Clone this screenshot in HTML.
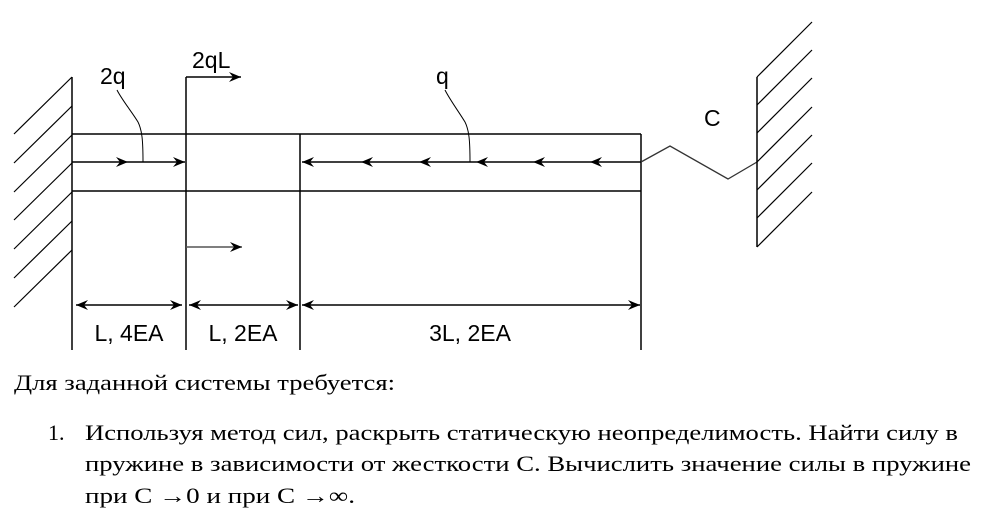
<!DOCTYPE html>
<html><head><meta charset="utf-8"><style>
html,body{margin:0;padding:0;background:#fff;width:985px;height:520px;overflow:hidden}
svg{display:block}
.s{font-family:"Liberation Sans",Arial,sans-serif;font-size:23px;fill:#000}
.t{font-family:"Liberation Serif","Times New Roman",serif;font-size:22px;fill:#000}
</style></head><body>
<svg width="985" height="520" viewBox="0 0 985 520" xmlns="http://www.w3.org/2000/svg">
<defs>
<marker id="ah" markerWidth="12" markerHeight="10" refX="12" refY="5" orient="auto" markerUnits="userSpaceOnUse">
<path d="M0,0 L12,5 L0,10 L4,5 Z" fill="#000"/></marker>
</defs>
<g stroke="#000" stroke-width="1.5" fill="none">
<line x1="72" y1="77" x2="72" y2="350"/>
<g stroke-width="1.2">
<line x1="72" y1="77" x2="14" y2="134"/>
<line x1="72" y1="106" x2="14" y2="163"/>
<line x1="72" y1="135" x2="14" y2="192"/>
<line x1="72" y1="163" x2="14" y2="220"/>
<line x1="72" y1="192" x2="14" y2="249"/>
<line x1="72" y1="221" x2="14" y2="278"/>
<line x1="72" y1="250" x2="14" y2="307"/>
</g>
<line x1="72" y1="134" x2="641" y2="134"/>
<line x1="72" y1="191" x2="641" y2="191"/>
<line x1="186" y1="77" x2="186" y2="350"/>
<line x1="300" y1="134" x2="300" y2="350"/>
<line x1="641" y1="134" x2="641" y2="350"/>
<line x1="72" y1="162" x2="128" y2="162" marker-end="url(#ah)"/>
<line x1="128" y1="162" x2="185" y2="162" marker-end="url(#ah)"/>
<path d="M143,162 C143,140 142,130 138,122 C132,112 122,100 117,90" stroke-width="1"/>
<line x1="186" y1="77" x2="241" y2="77" marker-end="url(#ah)"/>
<line x1="186" y1="247" x2="242" y2="247" stroke="#555" marker-end="url(#ah)"/>
<line x1="641" y1="162" x2="590" y2="162" marker-end="url(#ah)"/>
<line x1="590" y1="162" x2="533" y2="162" marker-end="url(#ah)"/>
<line x1="533" y1="162" x2="476" y2="162" marker-end="url(#ah)"/>
<line x1="476" y1="162" x2="419" y2="162" marker-end="url(#ah)"/>
<line x1="419" y1="162" x2="361" y2="162" marker-end="url(#ah)"/>
<line x1="361" y1="162" x2="302" y2="162" marker-end="url(#ah)"/>
<path d="M470,162 C470,140 469,130 465,122 C459,112 450,100 445,90" stroke-width="1"/>
<polyline points="641,162 670,146 728,179 757,162" stroke="#333" stroke-width="1.3"/>
<line x1="757" y1="77" x2="757" y2="247"/>
<g stroke-width="1.2">
<line x1="757" y1="77" x2="812" y2="22"/>
<line x1="757" y1="105" x2="812" y2="50"/>
<line x1="757" y1="133" x2="812" y2="78"/>
<line x1="757" y1="162" x2="812" y2="107"/>
<line x1="757" y1="190" x2="812" y2="135"/>
<line x1="757" y1="218" x2="812" y2="163"/>
<line x1="757" y1="247" x2="812" y2="192"/>
</g>
<line x1="100" y1="305" x2="76" y2="305" marker-end="url(#ah)"/>
<line x1="100" y1="305" x2="182" y2="305" marker-end="url(#ah)"/>
<line x1="240" y1="305" x2="189" y2="305" marker-end="url(#ah)"/>
<line x1="240" y1="305" x2="298" y2="305" marker-end="url(#ah)"/>
<line x1="470" y1="305" x2="302" y2="305" marker-end="url(#ah)"/>
<line x1="470" y1="305" x2="640" y2="305" marker-end="url(#ah)"/>
</g>
<text class="s" x="100" y="84">2q</text>
<text class="s" x="192" y="68">2qL</text>
<text class="s" x="436" y="84">q</text>
<text class="s" x="704" y="126">C</text>
<text class="s" x="129" y="341" text-anchor="middle">L, 4EA</text>
<text class="s" x="243" y="341" text-anchor="middle">L, 2EA</text>
<text class="s" x="470" y="341" text-anchor="middle">3L, 2EA</text>
<text class="t" x="14" y="390" textLength="381" lengthAdjust="spacingAndGlyphs">Для заданной системы требуется:</text>
<text class="t" x="48" y="440">1.</text>
<text class="t" x="85" y="440" textLength="873" lengthAdjust="spacingAndGlyphs">Используя метод сил, раскрыть статическую неопределимость. Найти силу в</text>
<text class="t" x="85" y="471" textLength="886" lengthAdjust="spacingAndGlyphs">пружине в зависимости от жесткости С. Вычислить значение силы в пружине</text>
<text class="t" x="85" y="503" textLength="270" lengthAdjust="spacingAndGlyphs">при С →0 и при С →∞.</text>
</svg>
</body></html>
